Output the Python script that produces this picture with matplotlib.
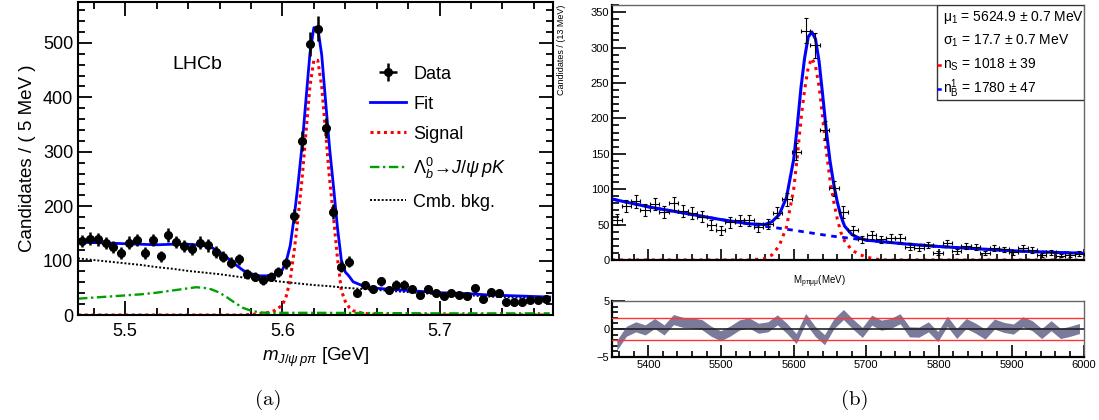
import numpy as np
import matplotlib
matplotlib.use("Agg")
from matplotlib import pyplot as plt
from matplotlib.ticker import MultipleLocator
from matplotlib.patches import Rectangle

plt.rcParams['font.family'] = ['Liberation Sans', 'DejaVu Sans']
plt.rcParams['mathtext.fontset'] = 'custom'
plt.rcParams['mathtext.rm'] = 'Liberation Sans'
plt.rcParams['mathtext.it'] = 'Liberation Sans:italic'
plt.rcParams['mathtext.bf'] = 'Liberation Sans:bold'

# ---- (a) LHCb, m(J/psi p pi), 5 MeV bins from 5.47 GeV
a_bin_lo = 5.47
a_bin_w = 0.005
a_counts = [136, 140, 139, 132, 125, 114, 133, 138, 114, 138,
            108, 147, 134, 127, 122, 133, 128, 116, 107, 96,
            102, 75, 70, 64, 70, 79, 95, 182, 320, 498,
            526, 344, 190, 89, 98, 41, 55, 47, 62, 46,
            56, 56, 47, 37, 48, 40, 35, 40, 37, 35,
            49, 29, 43, 40, 24, 24, 24, 27, 27, 29]

fit_a_x = [5.47, 5.48, 5.49, 5.50, 5.51, 5.52, 5.53, 5.54, 5.55, 5.555,
           5.56, 5.565, 5.57, 5.575, 5.58, 5.585, 5.59, 5.595, 5.60, 5.6025,
           5.605, 5.6075, 5.61, 5.6125, 5.615, 5.6175, 5.62, 5.6225, 5.625, 5.6275,
           5.63, 5.6325, 5.635, 5.6375, 5.64, 5.6425, 5.645, 5.65, 5.66, 5.67,
           5.68, 5.69, 5.70, 5.71, 5.72, 5.73, 5.74, 5.75, 5.76, 5.77]
fit_a_y = [134, 133, 132, 131, 130, 129, 130, 130, 128, 124,
           116, 105, 93, 82, 76, 72, 72, 75, 83, 99,
           128, 180, 242, 311, 396, 480, 528, 528, 478, 392,
           307, 236, 161, 101, 79, 71, 61, 55, 49, 47,
           45, 43, 41, 40, 39, 37, 36, 35, 34, 33]

sig_a_x = [5.47, 5.575, 5.58, 5.585, 5.59, 5.595, 5.60, 5.6025, 5.605, 5.6075,
           5.61, 5.6125, 5.615, 5.6175, 5.62, 5.6225, 5.625, 5.6275, 5.63, 5.6325,
           5.635, 5.6375, 5.64, 5.6425, 5.645, 5.65, 5.655, 5.66, 5.665, 5.77]
sig_a_y = [0, 0, 1, 2, 4, 8, 18, 35, 65, 118,
           180, 250, 335, 420, 468, 468, 420, 335, 250, 180,
           105, 45, 25, 14, 8, 4, 2, 1, 0, 0]

pk_a_x = [5.47, 5.48, 5.49, 5.50, 5.51, 5.52, 5.53, 5.54, 5.545, 5.55,
          5.555, 5.56, 5.565, 5.57, 5.575, 5.58, 5.585, 5.59, 5.62, 5.70, 5.77]
pk_a_y = [30, 32, 34, 36, 38, 41, 45, 49, 51, 50,
          47, 41, 32, 22, 13, 8, 5, 4, 4, 3, 3]

cmb_a_x = [5.47, 5.48, 5.49, 5.50, 5.51, 5.52, 5.53, 5.54, 5.55, 5.56,
           5.57, 5.58, 5.59, 5.60, 5.61, 5.62, 5.63, 5.64, 5.65, 5.66,
           5.67, 5.68, 5.69, 5.70, 5.71, 5.72, 5.73, 5.74, 5.75, 5.76, 5.77]
cmb_a_y = [104, 101, 98, 95, 92, 88, 85, 81, 78, 75,
           71, 67, 64, 61, 58, 55, 53, 50, 48, 46,
           44, 42, 40, 38, 37, 36, 34, 33, 32, 31, 30]

# ---- (b) m(p pi mu mu), 13 MeV bins from 5350 MeV
b_bin_lo = 5350
b_bin_w = 13
b_counts = [57, 76, 83, 70, 79, 68, 80, 69, 66, 61,
            49, 42, 53, 56, 56, 46, 51, 67, 86, 153,
            324, 303, 183, 101, 68, 42, 29, 35, 29, 31,
            31, 19, 17, 21, 10, 24, 12, 20, 18, 10,
            17, 15, 11, 17, 14, 7, 11, 6, 7, 9]

fit_b_x = [5350, 5400, 5450, 5500, 5540, 5560, 5570, 5580, 5590, 5600,
           5605, 5610, 5615, 5620, 5625, 5630, 5635, 5640, 5645, 5650,
           5655, 5660, 5665, 5670, 5680, 5690, 5700, 5750, 5800, 5850,
           5900, 5950, 6000]
fit_b_y = [86, 75, 66, 57, 51, 50, 54, 64, 88, 142,
           190, 243, 285, 315, 322, 312, 280, 232, 182, 140,
           108, 82, 62, 48, 36, 31, 28, 23, 19, 16,
           13, 11, 9.5]

sig_b_x = [5350, 5540, 5550, 5560, 5570, 5580, 5590, 5600, 5605, 5610,
           5615, 5620, 5625, 5630, 5635, 5640, 5645, 5650, 5655, 5660,
           5665, 5670, 5680, 5690, 5700, 5710, 5720, 6000]
sig_b_y = [0, 0, 1, 2, 7, 20, 46, 100, 146, 198,
           240, 272, 285, 274, 245, 200, 153, 113, 83, 58,
           39, 27, 14, 8, 4, 2, 0, 0]

bkg_b_x = [5350, 5400, 5450, 5500, 5550, 5600, 5650, 5700, 5750, 5800,
           5850, 5900, 5950, 6000]
bkg_b_y = [86, 75, 66, 57, 49, 42, 34, 28, 23, 19, 16, 13, 11, 9.5]

# pull band centre per bin
pull_b = [-2.9, -0.4, 0.4, -0.15, 1.0, -0.15, 1.7, 1.2, 1.1, 0.8,
          -0.4, -1.2, -0.35, 0.75, 1.1, 0.15, 0.4, 1.65, 0.15, -1.7,
          1.9, -0.4, -1.9, 1.0, 2.6, 0.9, -0.6, 1.6, 0.7, 1.0,
          1.85, -0.5, -0.55, 0.4, -1.35, 1.4, -0.8, 1.0, 0.15, -0.9,
          0.9, 0.3, 0.0, 1.3, 0.6, -0.8, 0.6, -0.8, -0.4, 0.1]
pull_halfwidth = 0.9

a_centres = a_bin_lo + a_bin_w * (np.arange(len(a_counts)) + 0.5)
b_centres = b_bin_lo + b_bin_w * (np.arange(len(b_counts)) + 0.5)
a_counts = np.array(a_counts)
b_counts = np.array(b_counts)
pull_b = np.array(pull_b)

fig = plt.figure(figsize=(10.99, 4.20), dpi=100)

# ---------------- panel (a)
ax1 = fig.add_axes([0.071, 0.25, 0.432, 0.745])
h_fit, = ax1.plot(fit_a_x, fit_a_y, color='#0000ff', lw=2, zorder=3)
h_sig, = ax1.plot(sig_a_x, sig_a_y, color='#ff0000', lw=2.2, ls=(0, (1, 1.2)), zorder=2)
h_pk, = ax1.plot(pk_a_x, pk_a_y, color='#00a000', lw=1.7, ls=(0, (4, 1.5, 1, 1.5)), zorder=2)
h_cmb, = ax1.plot(cmb_a_x, cmb_a_y, color='black', lw=1.4, ls=(0, (1, 1)), zorder=2)
h_dat = ax1.errorbar(a_centres, a_counts, yerr=np.sqrt(a_counts), xerr=a_bin_w / 2,
                     fmt='o', color='black', ms=5.5, elinewidth=1.8, capsize=0, zorder=4)
ax1.set_xlim(5.47, 5.772)
ax1.set_ylim(0, 575)
ax1.xaxis.set_major_locator(MultipleLocator(0.1))
ax1.xaxis.set_minor_locator(MultipleLocator(0.02))
ax1.yaxis.set_major_locator(MultipleLocator(100))
ax1.yaxis.set_minor_locator(MultipleLocator(20))
ax1.tick_params(which='both', direction='in', top=True, right=True, labelsize=13, width=1.3)
ax1.tick_params(which='major', length=10)
ax1.tick_params(which='minor', length=5)
ax1.tick_params(axis='x', pad=6)
for s in ax1.spines.values():
    s.set_linewidth(1.5)
ax1.set_ylabel('Candidates / ( 5 MeV )', fontsize=13.5, labelpad=5)
ax1.set_xlabel(r'$\mathit{m}_{\mathit{J/\psi\,p\pi}}$ [GeV]', fontsize=13.5, labelpad=4)
ax1.text(5.546, 460, 'LHCb', fontsize=14, ha='center', va='center')
ax1.legend([h_dat, h_fit, h_sig, h_pk, h_cmb],
           ['Data', 'Fit', 'Signal', r'$\mathit{\Lambda_b^0\!\rightarrow\! J/\psi\, pK}$', 'Cmb. bkg.'],
           loc='upper left', bbox_to_anchor=(0.6, 0.82), frameon=False, fontsize=13,
           handlelength=2.0, handletextpad=0.4, labelspacing=0.72, borderaxespad=0)

# ---------------- panel (b) top
ax2 = fig.add_axes([0.557, 0.381, 0.4295, 0.607])
ax2.plot(bkg_b_x, bkg_b_y, color='#0000ff', lw=2, ls=(0, (2, 2)), zorder=2)
ax2.plot(sig_b_x, sig_b_y, color='#ff0000', lw=2.2, ls=(0, (1, 1.6)), zorder=2)
ax2.plot(fit_b_x, fit_b_y, color='#0000ff', lw=2.2, zorder=3)
ax2.errorbar(b_centres, b_counts, yerr=np.sqrt(b_counts), xerr=b_bin_w / 2,
             fmt='none', ecolor='black', elinewidth=0.8, capsize=1.5, capthick=0.8, zorder=4)
ax2.set_xlim(5350, 6000)
ax2.set_ylim(0, 360)
ax2.xaxis.set_major_locator(MultipleLocator(100))
ax2.xaxis.set_minor_locator(MultipleLocator(20))
ax2.yaxis.set_major_locator(MultipleLocator(50))
ax2.yaxis.set_minor_locator(MultipleLocator(10))
ax2.tick_params(which='both', direction='in', labelsize=8, width=1.2)
ax2.tick_params(axis='x', labelbottom=False)
ax2.tick_params(axis='y', which='major', length=10, pad=2)
ax2.tick_params(axis='y', which='minor', length=5)
ax2.tick_params(axis='x', which='major', length=8)
ax2.tick_params(axis='x', which='minor', length=4)
ax2.spines['left'].set_linewidth(1.6)
ax2.spines['bottom'].set_linewidth(1.6)
for side in ('top', 'right'):
    ax2.spines[side].set_color('#666666')
    ax2.spines[side].set_linewidth(1.0)
ax2.set_ylabel('Candidates / (13 MeV)', fontsize=6.5, loc='top')
ax2.yaxis.set_label_coords(-0.097, 1.0)
ax2.text(0.44, -0.085, r'M$_{\mathrm{p\pi\mu\mu}}$(MeV)', transform=ax2.transAxes,
         fontsize=7, ha='center', va='center')

# stat box
ax2.add_patch(Rectangle((0.689, 0.627), 0.311, 0.373, transform=ax2.transAxes,
                        facecolor='white', edgecolor='#333333', lw=1.0, zorder=5))
box_lines = [r'$\mathrm{\mu_1}$ = 5624.9 ± 0.7 MeV',
             r'$\mathrm{\sigma_1}$ = 17.7 ± 0.7 MeV',
             r'n$_\mathrm{S}$ = 1018 ± 39',
             r'n$_\mathrm{B}^\mathrm{1}$ = 1780 ± 47']
box_y = [0.952, 0.858, 0.765, 0.672]
for txt, yy in zip(box_lines, box_y):
    ax2.text(0.700, yy, txt, transform=ax2.transAxes, fontsize=10, va='center', ha='left', zorder=6)
ax2.plot([0.690, 0.695], [0.765, 0.765], transform=ax2.transAxes, color='#ff0000', lw=1.8, zorder=6)
ax2.plot([0.690, 0.695], [0.672, 0.672], transform=ax2.transAxes, color='#0000ff', lw=1.8, zorder=6)

# ---------------- panel (b) pulls
ax3 = fig.add_axes([0.557, 0.15, 0.4295, 0.133])
ax3.fill_between(b_centres, pull_b - pull_halfwidth, pull_b + pull_halfwidth,
                 color='#7a7a9a', lw=0, zorder=2)
ax3.axhline(0, color='#222222', lw=1.2, zorder=3)
ax3.axhline(2, color='#ff3333', lw=1.0, zorder=3)
ax3.axhline(-2, color='#ff3333', lw=1.0, zorder=3)
ax3.set_xlim(5350, 6000)
ax3.set_ylim(-5, 5)
ax3.xaxis.set_major_locator(MultipleLocator(100))
ax3.xaxis.set_minor_locator(MultipleLocator(20))
ax3.yaxis.set_major_locator(MultipleLocator(5))
ax3.yaxis.set_minor_locator(MultipleLocator(1))
ax3.tick_params(which='both', direction='in', labelsize=8, width=1.2)
ax3.tick_params(which='major', length=9, pad=2)
ax3.tick_params(which='minor', length=4)
ax3.spines['left'].set_linewidth(1.6)
ax3.spines['bottom'].set_linewidth(1.6)
for side in ('top', 'right'):
    ax3.spines[side].set_color('#666666')
    ax3.spines[side].set_linewidth(1.0)

fig.text(0.244, 0.048, '(a)', fontsize=15, family='cmr10', ha='center', va='center')
fig.text(0.778, 0.048, '(b)', fontsize=15, family='cmr10', ha='center', va='center')

fig.savefig('out.png', dpi=100)
